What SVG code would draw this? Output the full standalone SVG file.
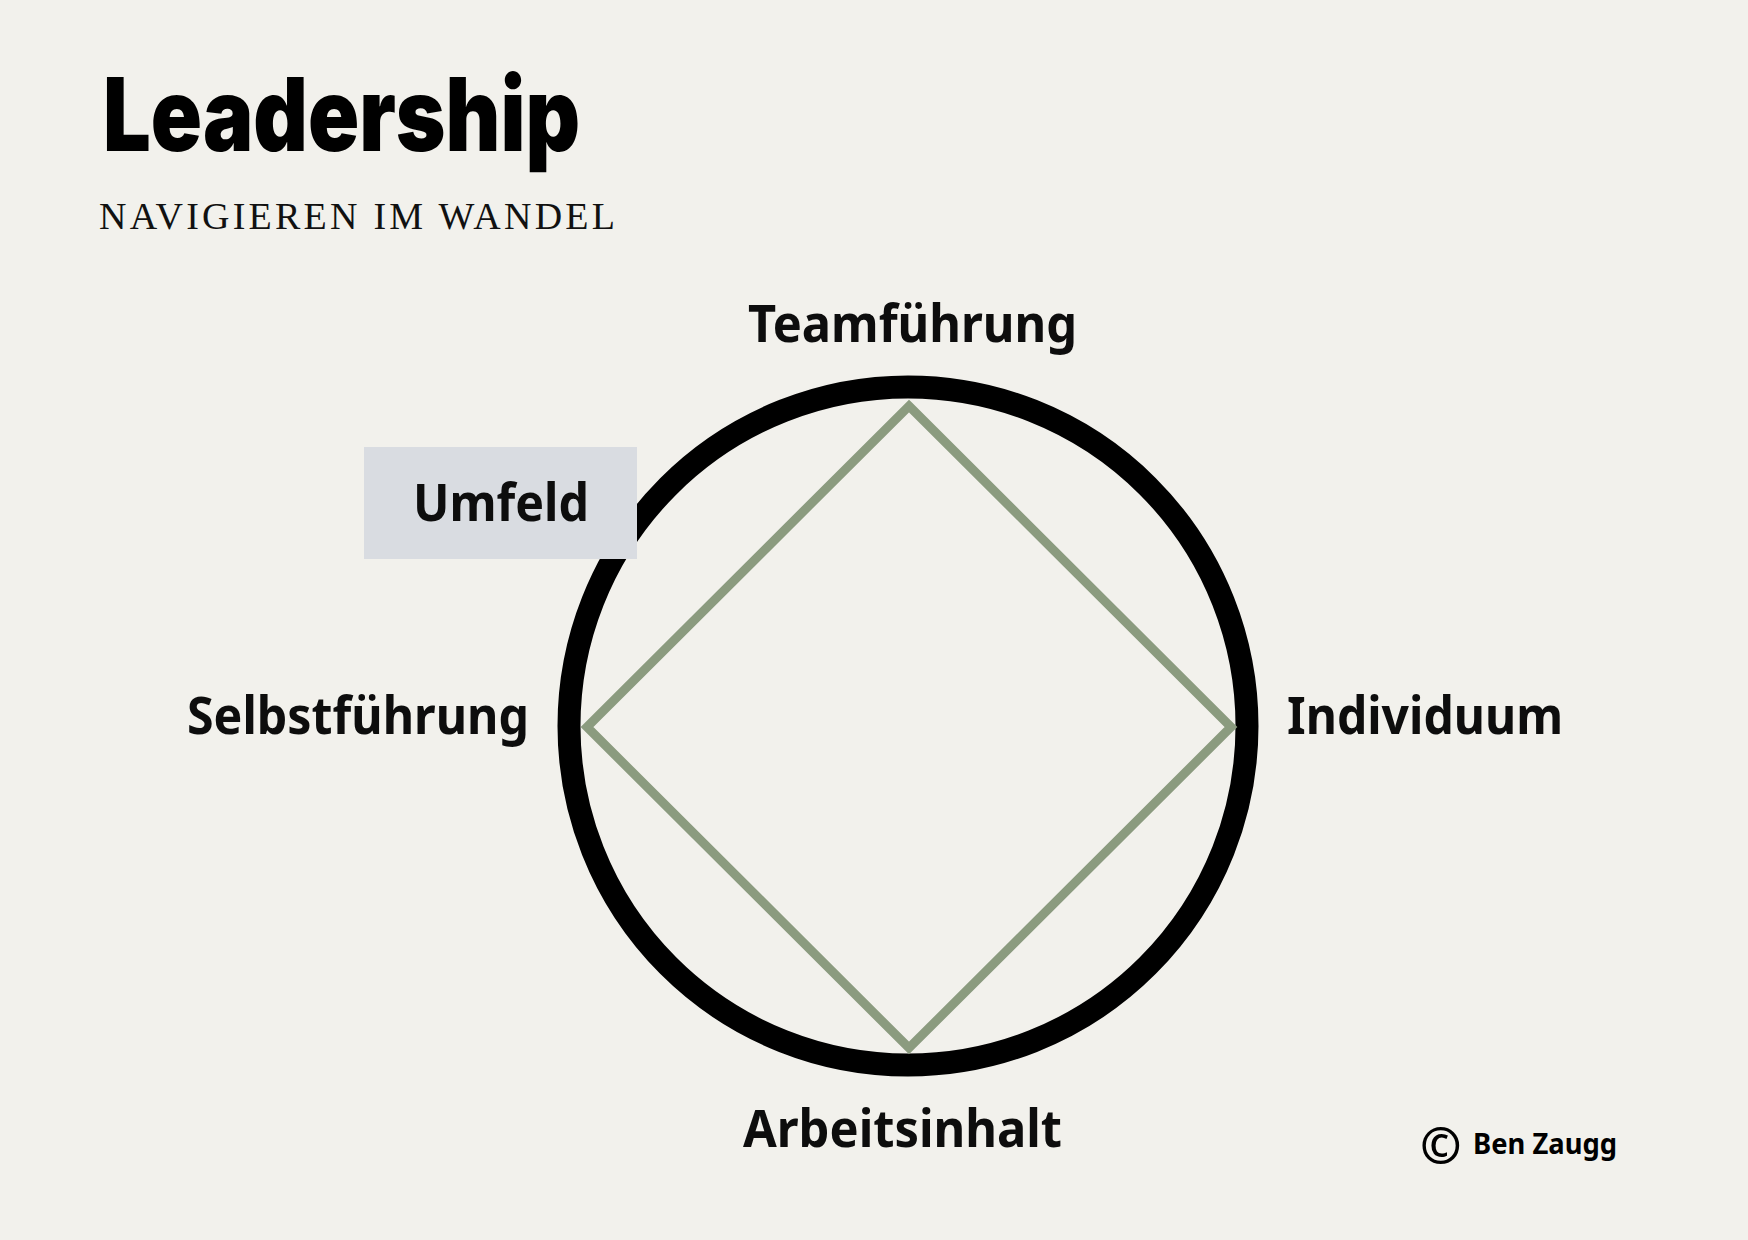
<svg xmlns="http://www.w3.org/2000/svg" width="1748" height="1240" viewBox="0 0 1748 1240">
  <style>
    .lbl { font-family: "Noto Sans", "Open Sans", sans-serif; font-weight: 700; font-size: 52px; fill: #0d0d0d; }
    .title { font-family: Inter, "Liberation Sans", Arial, sans-serif; font-weight: 900; font-size: 102px; fill: #000; }
    .sub { font-family: "Liberation Serif", "DejaVu Serif", serif; font-size: 38px; fill: #111; }
    .copy { font-family: "Noto Sans", "Open Sans", sans-serif; font-weight: 700; font-size: 28px; fill: #000; }
    .csym { font-family: "Noto Sans", "Open Sans", sans-serif; font-weight: 700; font-size: 50px; fill: #000; }
  </style>
  <rect x="0" y="0" width="1748" height="1240" fill="#f2f1ec"/>
  <g id="header">
    <text class="title" x="103" y="151" textLength="477" lengthAdjust="spacingAndGlyphs">Leadership</text>
    <text class="sub" x="99" y="229" textLength="516" lengthAdjust="spacing">NAVIGIEREN IM WANDEL</text>
  </g>
  <g id="circle">
    <circle cx="908" cy="726" r="339" fill="none" stroke="#000" stroke-width="23"/>
  </g>
  <g id="diamond">
    <polygon points="909,406 1231,727 909,1048 587,727" fill="none" stroke="#8b9b7f" stroke-width="9" stroke-linejoin="miter"/>
  </g>
  <g id="umfeld">
    <rect x="364" y="447" width="273" height="112" fill="#d9dce1"/>
    <text class="lbl" x="413" y="521" textLength="176" lengthAdjust="spacingAndGlyphs">Umfeld</text>
  </g>
  <g id="teamfuehrung">
    <text class="lbl" x="748" y="342" textLength="329" lengthAdjust="spacingAndGlyphs">Teamführung</text>
  </g>
  <g id="selbstfuehrung">
    <text class="lbl" x="187" y="734" textLength="342" lengthAdjust="spacingAndGlyphs">Selbstführung</text>
  </g>
  <g id="individuum">
    <text class="lbl" x="1287" y="734" textLength="276" lengthAdjust="spacingAndGlyphs">Individuum</text>
  </g>
  <g id="arbeitsinhalt">
    <text class="lbl" x="743" y="1147" textLength="319" lengthAdjust="spacingAndGlyphs">Arbeitsinhalt</text>
  </g>
  <g id="connectors"></g>
  <g id="copyright">
    <text class="csym" x="1420" y="1164">©</text>
    <text class="copy" x="1473" y="1154" textLength="144" lengthAdjust="spacingAndGlyphs">Ben Zaugg</text>
  </g>
</svg>
